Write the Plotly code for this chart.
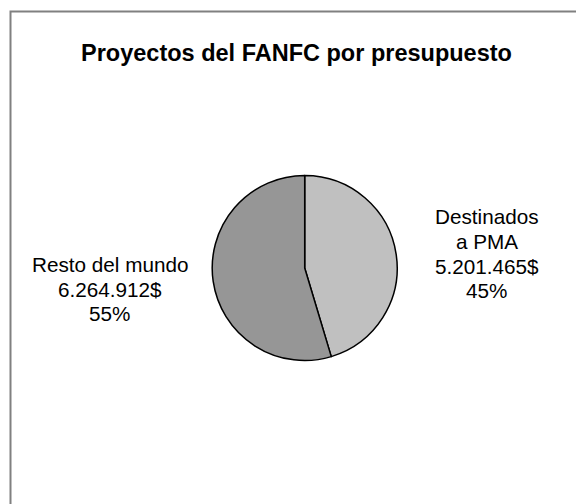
import plotly.graph_objects as go

# ---- data ----
title_text = "Proyectos del FANFC por presupuesto"
categories = ["Destinados\na PMA", "Resto del mundo"]
values = [5201465, 6264912]
colors = ["#C0C0C0", "#969696"]

W, H = 584, 504
FONT = "Liberation Sans, Arial, sans-serif"
OFF = 8.0  # page body margin offset

total = sum(values)

def fmt_money(v):
    return f"{v:,}".replace(",", ".") + "$"

def label_lines(i):
    pct = round(values[i] / total * 100)
    return categories[i].split("\n") + [fmt_money(values[i]), f"{pct}%"]

def px(x):
    return (x - OFF) / W

def py(y):
    return (H - (y - OFF)) / H

fig = go.Figure()

# pie geometry (page pixels)
cx, cy, r = 304.7, 268.0, 92.5
fig.add_trace(go.Pie(
    labels=[c.replace("\n", " ") for c in categories],
    values=values,
    sort=False,
    direction="clockwise",
    rotation=0,
    marker=dict(colors=colors, line=dict(color="#000000", width=1.5)),
    textinfo="none",
    hoverinfo="label+value+percent",
    showlegend=False,
    domain=dict(x=[px(cx - r), px(cx + r)],
                y=[py(cy + r), py(cy - r)]),
))

annotations = []
# title
annotations.append(dict(
    text=f"<b>{title_text}</b>", x=px(296), y=py(52.5),
    xref="paper", yref="paper", xanchor="center", yanchor="middle",
    showarrow=False, font=dict(family=FONT, size=23.5, color="#000000"),
))

# data labels: (center x, first line cap-center y) in page pixels
label_pos = {0: (486.7, 217.0), 1: (109.5, 264.5)}
spacing = 24.5
for i in range(len(values)):
    x0, y0 = label_pos[i]
    for k, line in enumerate(label_lines(i)):
        annotations.append(dict(
            text=line, x=px(x0), y=py(y0 + k * spacing),
            xref="paper", yref="paper", xanchor="center", yanchor="middle",
            showarrow=False, font=dict(family=FONT, size=20.7, color="#000000"),
        ))

fig.update_layout(
    width=W, height=H,
    margin=dict(l=0, r=0, t=0, b=0),
    paper_bgcolor="#FFFFFF",
    plot_bgcolor="#FFFFFF",
    annotations=annotations,
    shapes=[dict(type="rect", xref="paper", yref="paper",
                 x0=px(10.5), x1=1.05, y0=-0.05, y1=py(11.5),
                 line=dict(color="#808080", width=2), fillcolor="rgba(0,0,0,0)",
                 layer="below")],
)

fig.write_html("out.html")
